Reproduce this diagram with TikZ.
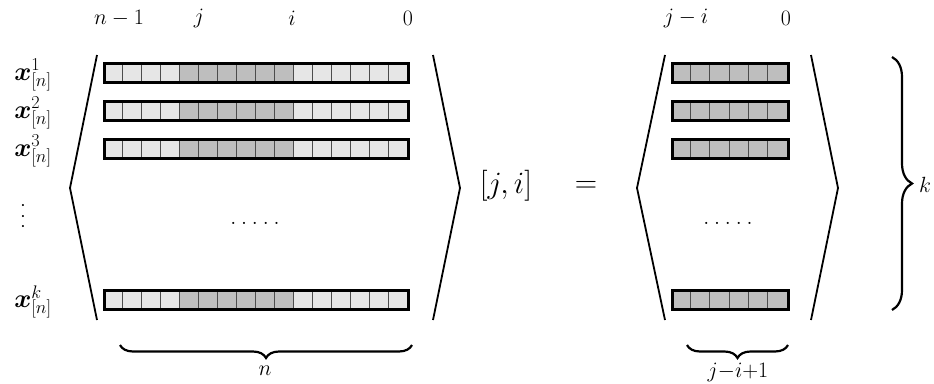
\RequirePackage{fix-cm}
\documentclass[tikz,border=0pt]{standalone}
\usepackage{bm}
\usetikzlibrary{decorations.pathreplacing}
\definecolor{cellL}{HTML}{E6E6E6}
\definecolor{cellD}{HTML}{BEBEBE}
\begin{document}
\begin{tikzpicture}[x=1pt,y=-1pt,
  lbl/.style={font=\fontsize{22}{26}\selectfont, inner sep=0pt},
  xlbl/.style={font=\fontsize{26}{30}\selectfont, inner sep=0pt},
  big/.style={font=\fontsize{31}{36}\selectfont, inner sep=0pt},
  ang/.style={line width=1.8pt, line join=miter},
  rowbox/.style={draw=black, line width=2.6pt, inner sep=0pt, anchor=north west},
  cell/.style={draw=black!70, line width=0.9pt},
  brc/.style={decorate, decoration={brace, amplitude=13pt}, line width=2.2pt}]
\useasboundingbox (0,0) rectangle (934,383);

% left matrix rows
\foreach \y [count=\r] in {62,100,138,289} {
  \foreach \c in {0,1,2,3,10,11,12,13,14,15}
    \filldraw[cell, fill=cellL] ({103+19*\c},\y) rectangle ++(19,19);
  \foreach \c in {4,...,9}
    \filldraw[cell, fill=cellD] ({103+19*\c},\y) rectangle ++(19,19);
  \node[rowbox, minimum width=304pt, minimum height=19pt] (L\r) at (103,\y) {};
}
% right matrix rows
\foreach \y [count=\r] in {62,100,138,289} {
  \foreach \c in {0,...,5}
    \filldraw[cell, fill=cellD] ({671+19.33*\c},\y) rectangle ++(19.33,19);
  \node[rowbox, minimum width=116pt, minimum height=19pt] (R\r) at (671,\y) {};
}

% angle brackets
\coordinate (a1t) at (97,55);  \coordinate (a1m) at (70,188);  \coordinate (a1b) at (97,320);
\coordinate (a2t) at (433,55); \coordinate (a2m) at (460,188); \coordinate (a2b) at (433,320);
\coordinate (a3t) at (665,55); \coordinate (a3m) at (637,188); \coordinate (a3b) at (665,320);
\coordinate (a4t) at (811,55); \coordinate (a4m) at (838,188); \coordinate (a4b) at (811,320);
\draw[ang] (a1t) -- (a1m) -- (a1b);
\draw[ang] (a2t) -- (a2m) -- (a2b);
\draw[ang] (a3t) -- (a3m) -- (a3b);
\draw[ang] (a4t) -- (a4m) -- (a4b);

% top labels
\node[lbl] (tn) at (119,18) {$n-1$};
\node[lbl] (tj) at (199,18) {$j$};
\node[lbl] (ti) at (292,18) {$i$};
\node[lbl] (t0) at (408,18) {$0$};
\node[lbl] (tji) at (686,18) {$j-i$};
\node[lbl] (t0r) at (786,18) {$0$};

% row labels
\node[xlbl] (x1) at (33,75) {$\bm{x}^{1}_{[n]}$};
\node[xlbl] (x2) at (33,113) {$\bm{x}^{2}_{[n]}$};
\node[xlbl] (x3) at (33,151) {$\bm{x}^{3}_{[n]}$};
\node[xlbl] (xk) at (33,302) {$\bm{x}^{k}_{[n]}$};
\node[lbl, rotate=90] (vd) at (23,216) {$.\:.\:.$};

% dots in the matrices
\node[lbl] (dl) at (255,223) {$.\:.\:.\:.\:.$};
\node[lbl] (dr) at (728,223) {$.\:.\:.\:.\:.$};

% [j,i] and =
\node[big] (ji) at (506,186) {$[j,i]$};
\node[big] (eq) at (586,187) {$=$};

% braces
\coordinate (b1r) at (412,345); \coordinate (b1l) at (120,345);
\coordinate (b2r) at (788,345); \coordinate (b2l) at (687,345);
\coordinate (b3t) at (892,57);  \coordinate (b3b) at (892,310);
\draw[brc] (b1r) -- (b1l);
\draw[brc] (b2r) -- (b2l);
\draw[brc, decoration={brace, amplitude=20pt}] (b3t) -- (b3b);
\node[lbl] (ln) at (265,371) {$n$};
\node[lbl] (lj) at (738,372) {$j{-}i{+}1$};
\node[lbl] (lk) at (925,185) {$k$};
\end{tikzpicture}
\end{document}
